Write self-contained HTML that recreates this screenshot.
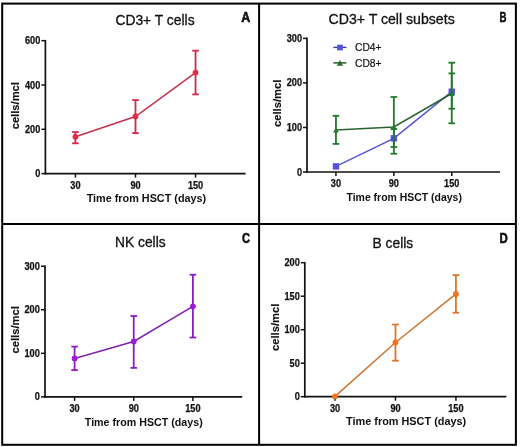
<!DOCTYPE html>
<html><head><meta charset="utf-8"><style>
html,body{margin:0;padding:0;background:#fff;}
svg{display:block;will-change:transform;}
text{font-family:"Liberation Sans", sans-serif;fill:#111;}
</style></head><body>
<svg width="520" height="447" viewBox="0 0 520 447">
<rect width="520" height="447" fill="#fff"/>
<line x1="45.4" y1="39.900000000000006" x2="45.4" y2="174.4" stroke="#111" stroke-width="1.7"/>
<line x1="44.6" y1="173.6" x2="245.6" y2="173.6" stroke="#111" stroke-width="1.7"/>
<line x1="41.4" y1="173.6" x2="45.4" y2="173.6" stroke="#111" stroke-width="1.5"/>
<text x="40.3" y="177.1" text-anchor="end" font-size="10" font-weight="bold" stroke="#111" stroke-width="0.25" textLength="5.1" lengthAdjust="spacingAndGlyphs">0</text>
<line x1="41.4" y1="129.3" x2="45.4" y2="129.3" stroke="#111" stroke-width="1.5"/>
<text x="40.3" y="132.8" text-anchor="end" font-size="10" font-weight="bold" stroke="#111" stroke-width="0.25" textLength="15.3" lengthAdjust="spacingAndGlyphs">200</text>
<line x1="41.4" y1="85.0" x2="45.4" y2="85.0" stroke="#111" stroke-width="1.5"/>
<text x="40.3" y="88.5" text-anchor="end" font-size="10" font-weight="bold" stroke="#111" stroke-width="0.25" textLength="15.3" lengthAdjust="spacingAndGlyphs">400</text>
<line x1="41.4" y1="40.70000000000002" x2="45.4" y2="40.70000000000002" stroke="#111" stroke-width="1.5"/>
<text x="40.3" y="44.20000000000002" text-anchor="end" font-size="10" font-weight="bold" stroke="#111" stroke-width="0.25" textLength="15.3" lengthAdjust="spacingAndGlyphs">600</text>
<line x1="75.43" y1="173.6" x2="75.43" y2="177.6" stroke="#111" stroke-width="1.5"/>
<text x="75.43" y="188.5" text-anchor="middle" font-size="10" font-weight="bold" stroke="#111" stroke-width="0.25" textLength="10.2" lengthAdjust="spacingAndGlyphs">30</text>
<line x1="135.49" y1="173.6" x2="135.49" y2="177.6" stroke="#111" stroke-width="1.5"/>
<text x="135.49" y="188.5" text-anchor="middle" font-size="10" font-weight="bold" stroke="#111" stroke-width="0.25" textLength="10.2" lengthAdjust="spacingAndGlyphs">90</text>
<line x1="195.55" y1="173.6" x2="195.55" y2="177.6" stroke="#111" stroke-width="1.5"/>
<text x="195.55" y="188.5" text-anchor="middle" font-size="10" font-weight="bold" stroke="#111" stroke-width="0.25" textLength="15.3" lengthAdjust="spacingAndGlyphs">150</text>
<text x="86.7" y="202.2" font-size="10.8" font-weight="bold" textLength="119.49999999999999" lengthAdjust="spacingAndGlyphs">Time from HSCT (days)</text>
<text transform="translate(18.6,105.7) rotate(-90)" text-anchor="middle" font-size="11" font-weight="bold" stroke="#111" stroke-width="0.15" textLength="47.3" lengthAdjust="spacingAndGlyphs">cells/mcl</text>
<text x="115.4" y="25.4" font-size="13.8" stroke="#111" stroke-width="0.3" textLength="79.19999999999999" lengthAdjust="spacingAndGlyphs">CD3+ T cells</text>
<text x="241.29999999999998" y="21.6" font-size="14" font-weight="bold" stroke="#000" stroke-width="0.5" textLength="9.000000000000005" lengthAdjust="spacingAndGlyphs">A</text>
<polyline points="75.43,136.80 135.49,116.50 195.55,72.60" fill="none" stroke="#c9304e" stroke-width="1.5"/>
<line x1="75.43" y1="132.0" x2="75.43" y2="143.3" stroke="#d02a4c" stroke-width="1.8"/>
<line x1="72.13000000000001" y1="132.0" x2="78.73" y2="132.0" stroke="#d02a4c" stroke-width="1.8"/>
<line x1="72.13000000000001" y1="143.3" x2="78.73" y2="143.3" stroke="#d02a4c" stroke-width="1.8"/>
<line x1="135.49" y1="100.1" x2="135.49" y2="133.1" stroke="#d02a4c" stroke-width="1.8"/>
<line x1="132.19" y1="100.1" x2="138.79000000000002" y2="100.1" stroke="#d02a4c" stroke-width="1.8"/>
<line x1="132.19" y1="133.1" x2="138.79000000000002" y2="133.1" stroke="#d02a4c" stroke-width="1.8"/>
<line x1="195.55" y1="50.70000000000002" x2="195.55" y2="94.4" stroke="#d02a4c" stroke-width="1.8"/>
<line x1="192.25" y1="50.70000000000002" x2="198.85000000000002" y2="50.70000000000002" stroke="#d02a4c" stroke-width="1.8"/>
<line x1="192.25" y1="94.4" x2="198.85000000000002" y2="94.4" stroke="#d02a4c" stroke-width="1.8"/>
<circle cx="75.43" cy="136.8" r="2.9" fill="#e62a45"/>
<circle cx="135.49" cy="116.5" r="2.9" fill="#e62a45"/>
<circle cx="195.55" cy="72.6" r="2.9" fill="#e62a45"/>
<line x1="307" y1="37.6" x2="307" y2="172.8" stroke="#111" stroke-width="1.7"/>
<line x1="306.2" y1="172" x2="500" y2="172" stroke="#111" stroke-width="1.7"/>
<line x1="303" y1="172.0" x2="307" y2="172.0" stroke="#111" stroke-width="1.5"/>
<text x="302" y="175.5" text-anchor="end" font-size="10" font-weight="bold" stroke="#111" stroke-width="0.25" textLength="5.1" lengthAdjust="spacingAndGlyphs">0</text>
<line x1="303" y1="127.46666666666667" x2="307" y2="127.46666666666667" stroke="#111" stroke-width="1.5"/>
<text x="302" y="130.96666666666667" text-anchor="end" font-size="10" font-weight="bold" stroke="#111" stroke-width="0.25" textLength="15.3" lengthAdjust="spacingAndGlyphs">100</text>
<line x1="303" y1="82.93333333333334" x2="307" y2="82.93333333333334" stroke="#111" stroke-width="1.5"/>
<text x="302" y="86.43333333333334" text-anchor="end" font-size="10" font-weight="bold" stroke="#111" stroke-width="0.25" textLength="15.3" lengthAdjust="spacingAndGlyphs">200</text>
<line x1="303" y1="38.400000000000006" x2="307" y2="38.400000000000006" stroke="#111" stroke-width="1.5"/>
<text x="302" y="41.900000000000006" text-anchor="end" font-size="10" font-weight="bold" stroke="#111" stroke-width="0.25" textLength="15.3" lengthAdjust="spacingAndGlyphs">300</text>
<line x1="335.95" y1="172" x2="335.95" y2="176" stroke="#111" stroke-width="1.5"/>
<text x="335.95" y="186.9" text-anchor="middle" font-size="10" font-weight="bold" stroke="#111" stroke-width="0.25" textLength="10.2" lengthAdjust="spacingAndGlyphs">30</text>
<line x1="393.85" y1="172" x2="393.85" y2="176" stroke="#111" stroke-width="1.5"/>
<text x="393.85" y="186.9" text-anchor="middle" font-size="10" font-weight="bold" stroke="#111" stroke-width="0.25" textLength="10.2" lengthAdjust="spacingAndGlyphs">90</text>
<line x1="451.75" y1="172" x2="451.75" y2="176" stroke="#111" stroke-width="1.5"/>
<text x="451.75" y="186.9" text-anchor="middle" font-size="10" font-weight="bold" stroke="#111" stroke-width="0.25" textLength="15.3" lengthAdjust="spacingAndGlyphs">150</text>
<text x="346.5" y="200.6" font-size="10.8" font-weight="bold" textLength="115.39999999999998" lengthAdjust="spacingAndGlyphs">Time from HSCT (days)</text>
<text transform="translate(281.2,103.3) rotate(-90)" text-anchor="middle" font-size="11" font-weight="bold" stroke="#111" stroke-width="0.15" textLength="47.3" lengthAdjust="spacingAndGlyphs">cells/mcl</text>
<text x="328.5" y="24.4" font-size="13.8" stroke="#111" stroke-width="0.3" textLength="126.19999999999999" lengthAdjust="spacingAndGlyphs">CD3+ T cell subsets</text>
<text x="499.59999999999997" y="21.6" font-size="14" font-weight="bold" stroke="#000" stroke-width="0.5" textLength="7.000000000000034" lengthAdjust="spacingAndGlyphs">B</text>
<polyline points="335.95,166.40 393.85,138.30 451.75,91.70" fill="none" stroke="#5a55d8" stroke-width="1.5"/>
<line x1="393.85" y1="129.0" x2="393.85" y2="147.0" stroke="#1f7a2b" stroke-width="1.8"/>
<line x1="390.55" y1="129.0" x2="397.15000000000003" y2="129.0" stroke="#1f7a2b" stroke-width="1.8"/>
<line x1="390.55" y1="147.0" x2="397.15000000000003" y2="147.0" stroke="#1f7a2b" stroke-width="1.8"/>
<line x1="451.75" y1="73.4" x2="451.75" y2="108.70000000000002" stroke="#1f7a2b" stroke-width="1.8"/>
<line x1="448.45" y1="73.4" x2="455.05" y2="73.4" stroke="#1f7a2b" stroke-width="1.8"/>
<line x1="448.45" y1="108.70000000000002" x2="455.05" y2="108.70000000000002" stroke="#1f7a2b" stroke-width="1.8"/>
<rect x="332.75" y="163.20000000000002" width="6.4" height="6.4" fill="#5450e0"/>
<rect x="390.65000000000003" y="135.10000000000002" width="6.4" height="6.4" fill="#5450e0"/>
<rect x="448.55" y="88.5" width="6.4" height="6.4" fill="#5450e0"/>
<polyline points="335.95,130.00 393.85,126.90 451.75,93.50" fill="none" stroke="#2a6232" stroke-width="1.5"/>
<line x1="335.95" y1="115.8" x2="335.95" y2="143.9" stroke="#1f7a2b" stroke-width="1.8"/>
<line x1="332.65" y1="115.8" x2="339.25" y2="115.8" stroke="#1f7a2b" stroke-width="1.8"/>
<line x1="332.65" y1="143.9" x2="339.25" y2="143.9" stroke="#1f7a2b" stroke-width="1.8"/>
<line x1="393.85" y1="97.0" x2="393.85" y2="153.7" stroke="#1f7a2b" stroke-width="1.8"/>
<line x1="390.55" y1="97.0" x2="397.15000000000003" y2="97.0" stroke="#1f7a2b" stroke-width="1.8"/>
<line x1="390.55" y1="153.7" x2="397.15000000000003" y2="153.7" stroke="#1f7a2b" stroke-width="1.8"/>
<line x1="451.75" y1="62.7" x2="451.75" y2="123.3" stroke="#1f7a2b" stroke-width="1.8"/>
<line x1="448.45" y1="62.7" x2="455.05" y2="62.7" stroke="#1f7a2b" stroke-width="1.8"/>
<line x1="448.45" y1="123.3" x2="455.05" y2="123.3" stroke="#1f7a2b" stroke-width="1.8"/>
<path d="M335.95,127.4 L338.84999999999997,132.5 L333.05,132.5Z" fill="#1f7a2b"/>
<path d="M393.85,124.30000000000001 L396.75,129.4 L390.95000000000005,129.4Z" fill="#1f7a2b"/>
<path d="M451.75,90.9 L454.65,96.0 L448.85,96.0Z" fill="#1f7a2b"/>
<line x1="45" y1="265.4" x2="45" y2="397.7" stroke="#111" stroke-width="1.7"/>
<line x1="44.2" y1="396.9" x2="242.2" y2="396.9" stroke="#111" stroke-width="1.7"/>
<line x1="41" y1="396.9" x2="45" y2="396.9" stroke="#111" stroke-width="1.5"/>
<text x="39.8" y="400.4" text-anchor="end" font-size="10" font-weight="bold" stroke="#111" stroke-width="0.25" textLength="5.1" lengthAdjust="spacingAndGlyphs">0</text>
<line x1="41" y1="353.3333333333333" x2="45" y2="353.3333333333333" stroke="#111" stroke-width="1.5"/>
<text x="39.8" y="356.8333333333333" text-anchor="end" font-size="10" font-weight="bold" stroke="#111" stroke-width="0.25" textLength="15.3" lengthAdjust="spacingAndGlyphs">100</text>
<line x1="41" y1="309.76666666666665" x2="45" y2="309.76666666666665" stroke="#111" stroke-width="1.5"/>
<text x="39.8" y="313.26666666666665" text-anchor="end" font-size="10" font-weight="bold" stroke="#111" stroke-width="0.25" textLength="15.3" lengthAdjust="spacingAndGlyphs">200</text>
<line x1="41" y1="266.2" x2="45" y2="266.2" stroke="#111" stroke-width="1.5"/>
<text x="39.8" y="269.7" text-anchor="end" font-size="10" font-weight="bold" stroke="#111" stroke-width="0.25" textLength="15.3" lengthAdjust="spacingAndGlyphs">300</text>
<line x1="74.58" y1="396.9" x2="74.58" y2="400.9" stroke="#111" stroke-width="1.5"/>
<text x="74.58" y="411.79999999999995" text-anchor="middle" font-size="10" font-weight="bold" stroke="#111" stroke-width="0.25" textLength="10.2" lengthAdjust="spacingAndGlyphs">30</text>
<line x1="133.74" y1="396.9" x2="133.74" y2="400.9" stroke="#111" stroke-width="1.5"/>
<text x="133.74" y="411.79999999999995" text-anchor="middle" font-size="10" font-weight="bold" stroke="#111" stroke-width="0.25" textLength="10.2" lengthAdjust="spacingAndGlyphs">90</text>
<line x1="192.9" y1="396.9" x2="192.9" y2="400.9" stroke="#111" stroke-width="1.5"/>
<text x="192.9" y="411.79999999999995" text-anchor="middle" font-size="10" font-weight="bold" stroke="#111" stroke-width="0.25" textLength="15.3" lengthAdjust="spacingAndGlyphs">150</text>
<text x="84.8" y="425.5" font-size="10.8" font-weight="bold" textLength="117.89999999999999" lengthAdjust="spacingAndGlyphs">Time from HSCT (days)</text>
<text transform="translate(19.2,329.8) rotate(-90)" text-anchor="middle" font-size="11" font-weight="bold" stroke="#111" stroke-width="0.15" textLength="47.3" lengthAdjust="spacingAndGlyphs">cells/mcl</text>
<text x="115.1" y="247.1" font-size="13.8" stroke="#111" stroke-width="0.3" textLength="50.5" lengthAdjust="spacingAndGlyphs">NK cells</text>
<text x="241.89999999999998" y="243.20000000000002" font-size="14" font-weight="bold" stroke="#000" stroke-width="0.5" textLength="8.000000000000005" lengthAdjust="spacingAndGlyphs">C</text>
<polyline points="74.58,358.50 133.74,341.50 192.90,306.30" fill="none" stroke="#7f22b0" stroke-width="1.5"/>
<line x1="74.58" y1="346.6" x2="74.58" y2="370.1" stroke="#8c1cc8" stroke-width="1.8"/>
<line x1="71.28" y1="346.6" x2="77.88" y2="346.6" stroke="#8c1cc8" stroke-width="1.8"/>
<line x1="71.28" y1="370.1" x2="77.88" y2="370.1" stroke="#8c1cc8" stroke-width="1.8"/>
<line x1="133.74" y1="316.0" x2="133.74" y2="367.9" stroke="#8c1cc8" stroke-width="1.8"/>
<line x1="130.44" y1="316.0" x2="137.04000000000002" y2="316.0" stroke="#8c1cc8" stroke-width="1.8"/>
<line x1="130.44" y1="367.9" x2="137.04000000000002" y2="367.9" stroke="#8c1cc8" stroke-width="1.8"/>
<line x1="192.9" y1="274.7" x2="192.9" y2="337.5" stroke="#8c1cc8" stroke-width="1.8"/>
<line x1="189.6" y1="274.7" x2="196.20000000000002" y2="274.7" stroke="#8c1cc8" stroke-width="1.8"/>
<line x1="189.6" y1="337.5" x2="196.20000000000002" y2="337.5" stroke="#8c1cc8" stroke-width="1.8"/>
<circle cx="74.58" cy="358.5" r="2.9" fill="#9a1ad6"/>
<circle cx="133.74" cy="341.5" r="2.9" fill="#9a1ad6"/>
<circle cx="192.9" cy="306.3" r="2.9" fill="#9a1ad6"/>
<line x1="304.8" y1="261.9" x2="304.8" y2="397.5" stroke="#111" stroke-width="1.7"/>
<line x1="304.0" y1="396.7" x2="506.3" y2="396.7" stroke="#111" stroke-width="1.7"/>
<line x1="300.8" y1="396.7" x2="304.8" y2="396.7" stroke="#111" stroke-width="1.5"/>
<text x="299.8" y="400.2" text-anchor="end" font-size="10" font-weight="bold" stroke="#111" stroke-width="0.25" textLength="5.1" lengthAdjust="spacingAndGlyphs">0</text>
<line x1="300.8" y1="363.2" x2="304.8" y2="363.2" stroke="#111" stroke-width="1.5"/>
<text x="299.8" y="366.7" text-anchor="end" font-size="10" font-weight="bold" stroke="#111" stroke-width="0.25" textLength="10.2" lengthAdjust="spacingAndGlyphs">50</text>
<line x1="300.8" y1="329.7" x2="304.8" y2="329.7" stroke="#111" stroke-width="1.5"/>
<text x="299.8" y="333.2" text-anchor="end" font-size="10" font-weight="bold" stroke="#111" stroke-width="0.25" textLength="15.3" lengthAdjust="spacingAndGlyphs">100</text>
<line x1="300.8" y1="296.2" x2="304.8" y2="296.2" stroke="#111" stroke-width="1.5"/>
<text x="299.8" y="299.7" text-anchor="end" font-size="10" font-weight="bold" stroke="#111" stroke-width="0.25" textLength="15.3" lengthAdjust="spacingAndGlyphs">150</text>
<line x1="300.8" y1="262.7" x2="304.8" y2="262.7" stroke="#111" stroke-width="1.5"/>
<text x="299.8" y="266.2" text-anchor="end" font-size="10" font-weight="bold" stroke="#111" stroke-width="0.25" textLength="15.3" lengthAdjust="spacingAndGlyphs">200</text>
<line x1="335.02500000000003" y1="396.7" x2="335.02500000000003" y2="400.7" stroke="#111" stroke-width="1.5"/>
<text x="335.02500000000003" y="411.59999999999997" text-anchor="middle" font-size="10" font-weight="bold" stroke="#111" stroke-width="0.25" textLength="10.2" lengthAdjust="spacingAndGlyphs">30</text>
<line x1="395.475" y1="396.7" x2="395.475" y2="400.7" stroke="#111" stroke-width="1.5"/>
<text x="395.475" y="411.59999999999997" text-anchor="middle" font-size="10" font-weight="bold" stroke="#111" stroke-width="0.25" textLength="10.2" lengthAdjust="spacingAndGlyphs">90</text>
<line x1="455.925" y1="396.7" x2="455.925" y2="400.7" stroke="#111" stroke-width="1.5"/>
<text x="455.925" y="411.59999999999997" text-anchor="middle" font-size="10" font-weight="bold" stroke="#111" stroke-width="0.25" textLength="15.3" lengthAdjust="spacingAndGlyphs">150</text>
<text x="346.1" y="425.3" font-size="10.8" font-weight="bold" textLength="120.09999999999997" lengthAdjust="spacingAndGlyphs">Time from HSCT (days)</text>
<text transform="translate(278.9,327.3) rotate(-90)" text-anchor="middle" font-size="11" font-weight="bold" stroke="#111" stroke-width="0.15" textLength="47.3" lengthAdjust="spacingAndGlyphs">cells/mcl</text>
<text x="372.5" y="247.8" font-size="13.8" stroke="#111" stroke-width="0.3" textLength="40.69999999999999" lengthAdjust="spacingAndGlyphs">B cells</text>
<text x="499.59999999999997" y="243.20000000000002" font-size="14" font-weight="bold" stroke="#000" stroke-width="0.5" textLength="8.300000000000045" lengthAdjust="spacingAndGlyphs">D</text>
<polyline points="335.03,396.40 395.48,342.50 455.93,293.90" fill="none" stroke="#cd7634" stroke-width="1.5"/>
<line x1="395.475" y1="324.5" x2="395.475" y2="360.7" stroke="#e0742c" stroke-width="1.8"/>
<line x1="392.175" y1="324.5" x2="398.77500000000003" y2="324.5" stroke="#e0742c" stroke-width="1.8"/>
<line x1="392.175" y1="360.7" x2="398.77500000000003" y2="360.7" stroke="#e0742c" stroke-width="1.8"/>
<line x1="455.925" y1="275.1" x2="455.925" y2="312.7" stroke="#e0742c" stroke-width="1.8"/>
<line x1="452.625" y1="275.1" x2="459.225" y2="275.1" stroke="#e0742c" stroke-width="1.8"/>
<line x1="452.625" y1="312.7" x2="459.225" y2="312.7" stroke="#e0742c" stroke-width="1.8"/>
<circle cx="335.02500000000003" cy="396.4" r="2.9" fill="#f57318"/>
<circle cx="395.475" cy="342.5" r="2.9" fill="#f57318"/>
<circle cx="455.925" cy="293.9" r="2.9" fill="#f57318"/>
<line x1="333.4" y1="47.4" x2="346.4" y2="47.4" stroke="#3a3a90" stroke-width="1.4"/>
<rect x="337.1" y="44.7" width="5.7" height="5.7" fill="#5450e0"/>
<line x1="333.4" y1="62.9" x2="346.4" y2="62.9" stroke="#1d4d22" stroke-width="1.4"/>
<path d="M339.9,60 L342.9,65.8 L336.9,65.8Z" fill="#1f6a25"/>
<text x="355" y="51.2" font-size="10.3" stroke="#111" stroke-width="0.2">CD4+</text>
<text x="355" y="66.5" font-size="10.3" stroke="#111" stroke-width="0.2">CD8+</text>
<rect x="2.2" y="3.6" width="513.7" height="441.2" fill="none" stroke="#000" stroke-width="2"/>
<line x1="259.1" y1="3.6" x2="259.1" y2="444.8" stroke="#000" stroke-width="2"/>
<line x1="2.3" y1="224" x2="515.9" y2="224" stroke="#000" stroke-width="2"/>
</svg>
</body></html>
